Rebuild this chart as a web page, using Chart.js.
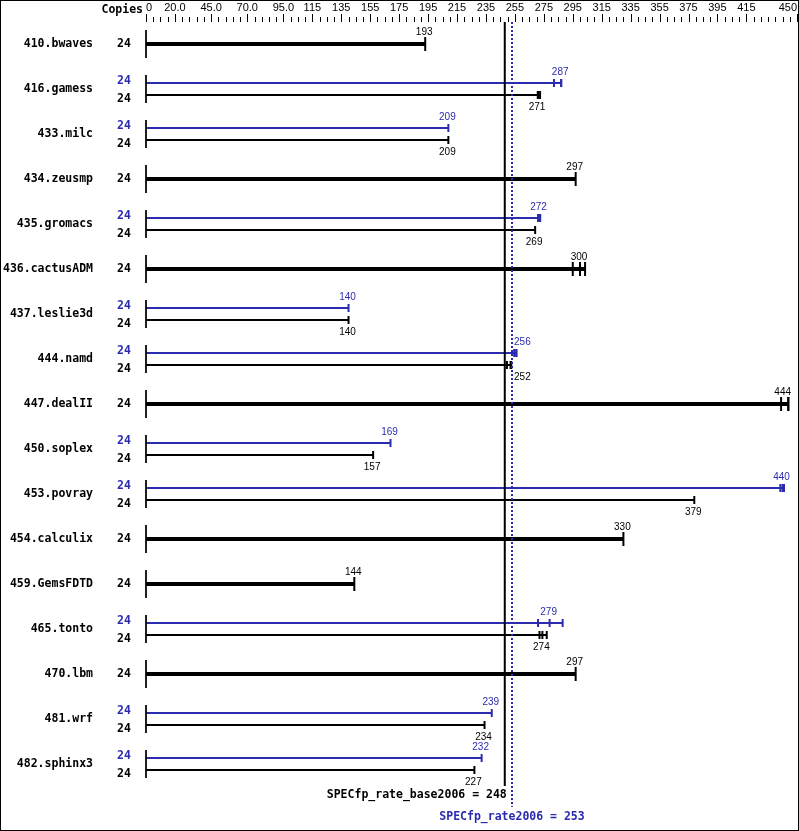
<!DOCTYPE html>
<html><head><meta charset="utf-8">
<script src="https://cdn.jsdelivr.net/npm/chart.js@4.4.0/dist/chart.umd.min.js"></script>
<style>html,body{margin:0;padding:0;background:#fff;} #wrap{width:799px;height:831px;position:relative;}</style>
</head><body><div id="wrap"><canvas id="c" width="799" height="831"></canvas></div>
<script>
const benchmarks = ['410.bwaves','416.gamess','433.milc','434.zeusmp','435.gromacs','436.cactusADM','437.leslie3d','444.namd','447.dealII','450.soplex','453.povray','454.calculix','459.GemsFDTD','465.tonto','470.lbm','481.wrf','482.sphinx3'];
const copies = [24,24,24,24,24,24,24,24,24,24,24,24,24,24,24,24,24];
const baseValues = [193,271,209,297,269,300,140,252,444,157,379,330,144,274,297,234,227];
const peakValues = [null,287,209,null,272,null,140,256,null,169,440,null,null,279,null,239,232];
const baseRuns = [[193],[270.8,271,272.4],[209],[297],[269],[295,300,303.5],[140],[249.5,252,252.5],[439,444,444],[157],[379],[330],[144],[272,274,277],[297],[234],[227]];
const peakRuns = [null,[282,287,287],[209],null,[271,272,272.5],null,[140],[254.5,256,256],null,[169],[438.5,440,441],null,null,[271,279,288],null,[239],[232]];
const xTickValues = [0,20,45,70,95,115,135,155,175,195,215,235,255,275,295,315,335,355,375,395,415,450];
const baseRef = 248, peakRef = 253;
const baseRefLabel = 'SPECfp_rate_base2006 = 248';
const peakRefLabel = 'SPECfp_rate2006 = 253';
const copiesHeader = 'Copies';

const BLUE = '#2b2bae', BLACK = '#000000';
const ROW = 45;
const OFF_PEAK = -6/ROW, OFF_BASE = 6/ROW;
const Y_MIN = -22/ROW, Y_MAX = (808-44)/ROW;
const MONO_B = 'bold 11.5px "DejaVu Sans Mono"';
const NUM = '10px "Liberation Sans"';

const datasets = [];
datasets.push({type:'line', data:[{x:baseRef,y:Y_MIN},{x:baseRef,y:(786-44)/ROW}], borderColor:BLACK, borderWidth:2, pointRadius:0, clip:false});
datasets.push({type:'line', data:[{x:peakRef,y:Y_MIN},{x:peakRef,y:(807-44)/ROW}], borderColor:BLUE, borderWidth:2, borderDash:[2,2], pointRadius:0, clip:false});
benchmarks.forEach((b, i) => {
  datasets.push({type:'line', data:[{x:0,y:i-14/ROW},{x:0,y:i+14/ROW}], borderColor:BLACK, borderWidth:1, pointRadius:0, clip:false});
  const two = peakRuns[i] !== null;
  const series = two ? [[peakRuns[i], BLUE, i+OFF_PEAK], [baseRuns[i], BLACK, i+OFF_BASE]] : [[baseRuns[i], BLACK, i]];
  series.forEach(([runs, color, y]) => {
    const mx = Math.max(...runs);
    datasets.push({type:'line', data:[{x:0,y},{x:mx,y}], borderColor:color, borderWidth: two?2:4, pointRadius:0, clip:false, borderCapStyle:'butt'});
    datasets.push({type:'scatter', data: runs.map(r => ({x:r,y})), showLine:false, pointStyle:'line', pointRotation:90,
      pointRadius: two?4:7, pointHoverRadius: two?4:7, pointBorderColor:color, pointBorderWidth:2, clip:false});
  });
});

const decor = {
  id: 'decor',
  afterDraw(chart) {
    const ctx = chart.ctx, xs = chart.scales.x, ys = chart.scales.y;
    const refLo = xs.getPixelForValue(baseRef) - 1, refHi = xs.getPixelForValue(peakRef) + 1;
    ctx.save();
    ctx.strokeStyle = BLACK; ctx.lineWidth = 1;
    for (let v = 0; v <= 450; v += 5) {
      const px = Math.round(xs.getPixelForValue(v)) + 0.5;
      const major = xTickValues.includes(v);
      ctx.beginPath(); ctx.moveTo(px, major ? 14 : 17); ctx.lineTo(px, 22); ctx.stroke();
    }
    ctx.font = MONO_B; ctx.fillStyle = BLACK; ctx.textAlign = 'right'; ctx.textBaseline = 'middle';
    ctx.fillText(copiesHeader, 143, 10);
    ctx.textAlign = 'center';
    benchmarks.forEach((b, i) => {
      const cy = ys.getPixelForValue(i);
      const two = peakRuns[i] !== null;
      ctx.font = MONO_B;
      if (two) {
        ctx.fillStyle = BLUE; ctx.fillText(String(copies[i]), 124, cy - 8);
        ctx.fillStyle = BLACK; ctx.fillText(String(copies[i]), 124, cy + 10);
      } else {
        ctx.fillStyle = BLACK; ctx.fillText(String(copies[i]), 124, cy);
      }
      ctx.font = NUM;
      const place = (val, color, y) => {
        let px = xs.getPixelForValue(val) - 1;
        const w = ctx.measureText(String(val)).width;
        if (px - w/2 < refHi && px + w/2 > refLo) px = refHi + 1 + w/2;
        if (px + w/2 > 791) px = 791 - w/2;
        ctx.fillStyle = color; ctx.fillText(String(val), px, y);
      };
      if (two) {
        place(peakValues[i], BLUE, cy - 16.5);
        place(baseValues[i], BLACK, cy + 18);
      } else {
        place(baseValues[i], BLACK, cy - 11.5);
      }
    });
    ctx.font = MONO_B;
    ctx.fillStyle = BLACK; ctx.textAlign = 'right';
    ctx.fillText(baseRefLabel, xs.getPixelForValue(baseRef) + 2, 795);
    ctx.fillStyle = BLUE; ctx.textAlign = 'center';
    ctx.fillText(peakRefLabel, xs.getPixelForValue(peakRef), 817);
    ctx.strokeStyle = BLACK; ctx.lineWidth = 1;
    ctx.strokeRect(0.5, 0.5, 798, 830);
    ctx.restore();
  }
};

new Chart(document.getElementById('c'), {
  type: 'scatter',
  data: { datasets },
  options: {
    responsive: false, animation: false, events: [],
    layout: { autoPadding: false, padding: { left: 0, right: 2, top: 0, bottom: 23 } },
    plugins: { legend: { display: false }, tooltip: { enabled: false } },
    scales: {
      x: {
        type: 'linear', position: 'top', min: 0, max: 450,
        grid: { display: false, drawTicks: false }, border: { display: false },
        afterBuildTicks: s => { s.ticks = xTickValues.map(v => ({ value: v })); },
        afterFit: s => { s.height = 22; s.paddingLeft = 0; s.paddingRight = 0; s.paddingTop = 0; s.paddingBottom = 0; },
        ticks: { autoSkip: false, maxRotation: 0, align: 'inner', padding: 7, color: BLACK,
          font: { family: '"Liberation Sans"', size: 11 },
          callback: v => (v > 0 && v < 100) ? v.toFixed(1) : String(v) }
      },
      y: {
        type: 'linear', position: 'left', reverse: true, min: Y_MIN, max: Y_MAX,
        grid: { display: false, drawTicks: false }, border: { display: false },
        afterBuildTicks: s => { s.ticks = benchmarks.map((b, i) => ({ value: i })); },
        afterFit: s => { s.width = 146; s.paddingTop = 0; s.paddingBottom = 0; s.paddingLeft = 0; s.paddingRight = 0; },
        ticks: { autoSkip: false, padding: 53, color: BLACK,
          font: { family: '"DejaVu Sans Mono"', size: 11.5, weight: 'bold' },
          callback: v => benchmarks[Math.round(v)] }
      }
    }
  },
  plugins: [decor]
});
</script></body></html>
